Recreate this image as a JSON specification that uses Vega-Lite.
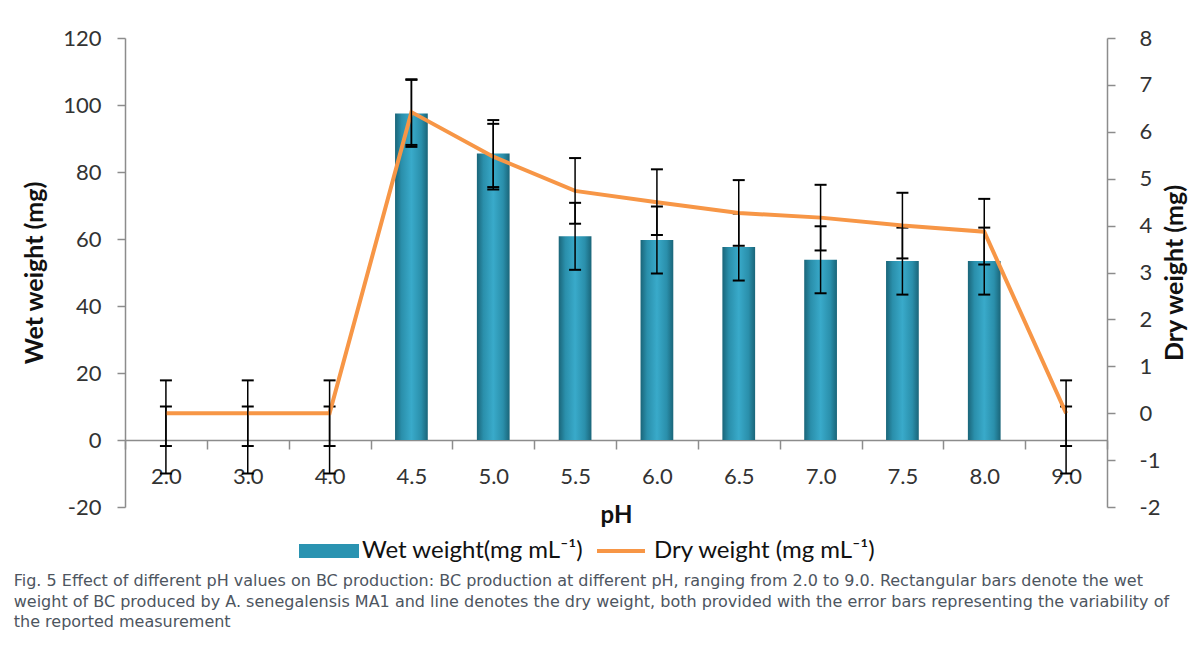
{
  "$schema": "https://vega.github.io/schema/vega-lite/v6.json",
  "width": 982,
  "height": 469,
  "padding": {"left": 13, "top": 27, "right": 2, "bottom": 5},
  "background": "white",
  "config": {
    "view": {"stroke": null},
    "font": "Lato",
    "axis": {"grid": false, "domainColor": "#8c8c8c", "tickColor": "#8c8c8c", "domainWidth": 1.5, "tickWidth": 1.5, "labelColor": "#333333", "titleColor": "#111111", "labelFont": "Lato", "titleFont": "Lato"}
  },
  "data": {"values": [
    {"pH": "2.0", "wet": 0, "wet_lo": -10, "wet_hi": 10, "dry": 0, "dry_lo": -0.7, "dry_hi": 0.7},
    {"pH": "3.0", "wet": 0, "wet_lo": -10, "wet_hi": 10, "dry": 0, "dry_lo": -0.7, "dry_hi": 0.7},
    {"pH": "4.0", "wet": 0, "wet_lo": -10, "wet_hi": 10, "dry": 0, "dry_lo": -0.7, "dry_hi": 0.7},
    {"pH": "4.5", "wet": 97.5, "wet_lo": 87.5, "wet_hi": 107.5, "dry": 6.42, "dry_lo": 5.72, "dry_hi": 7.12},
    {"pH": "5.0", "wet": 85.5, "wet_lo": 75.5, "wet_hi": 95.5, "dry": 5.47, "dry_lo": 4.77, "dry_hi": 6.17},
    {"pH": "5.5", "wet": 60.8, "wet_lo": 50.8, "wet_hi": 70.8, "dry": 4.74, "dry_lo": 4.04, "dry_hi": 5.44},
    {"pH": "6.0", "wet": 59.7, "wet_lo": 49.7, "wet_hi": 69.7, "dry": 4.5, "dry_lo": 3.8, "dry_hi": 5.2},
    {"pH": "6.5", "wet": 57.6, "wet_lo": 47.6, "wet_hi": 67.6, "dry": 4.27, "dry_lo": 3.57, "dry_hi": 4.97},
    {"pH": "7.0", "wet": 53.8, "wet_lo": 43.8, "wet_hi": 63.8, "dry": 4.17, "dry_lo": 3.47, "dry_hi": 4.87},
    {"pH": "7.5", "wet": 53.4, "wet_lo": 43.4, "wet_hi": 63.4, "dry": 4.0, "dry_lo": 3.3, "dry_hi": 4.7},
    {"pH": "8.0", "wet": 53.4, "wet_lo": 43.4, "wet_hi": 63.4, "dry": 3.87, "dry_lo": 3.17, "dry_hi": 4.57},
    {"pH": "9.0", "wet": 0, "wet_lo": -10, "wet_hi": 10, "dry": 0, "dry_lo": -0.7, "dry_hi": 0.7}
  ]},
  "title": {
    "text": [
      "Fig. 5 Effect of different pH values on BC production: BC production at different pH, ranging from 2.0 to 9.0. Rectangular bars denote the wet",
      "weight of BC produced by A. senegalensis MA1 and line denotes the dry weight, both provided with the error bars representing the variability of",
      "the reported measurement"
    ],
    "orient": "bottom",
    "anchor": "start",
    "frame": "bounds",
    "font": "DejaVu Sans",
    "fontSize": 16,
    "fontWeight": "normal",
    "color": "#4d5560",
    "lineHeight": 20.5,
    "offset": 10,
    "dx": -9
  },
  "encoding": {
    "x": {
      "field": "pH",
      "type": "ordinal",
      "sort": null,
      "scale": {"paddingInner": 0, "paddingOuter": 0},
      "axis": {"title": "pH", "labelAngle": 0, "tickBand": "extent", "offset": -67, "tickSize": 9, "labelPadding": 17, "labelFontSize": 22, "titleFontSize": 24, "titleFontWeight": "bold", "titlePadding": 16}
    }
  },
  "layer": [
    {
      "mark": {"type": "bar", "width": {"band": 0.4}},
      "encoding": {
        "y": {
          "field": "wet",
          "type": "quantitative",
          "scale": {"domain": [-20, 120], "nice": false, "zero": false},
          "axis": {"orient": "left", "title": "Wet weight (mg)", "values": [-20, 0, 20, 40, 60, 80, 100, 120], "labelExpr": "datum.value < 0 ? '-' + abs(datum.value) : datum.label", "tickSize": 8, "labelPadding": 16, "labelFontSize": 22, "titleFontSize": 25, "titleFontWeight": "bold", "titlePadding": 15}
        },
        "fill": {"value": {"gradient": "linear", "x1": 0, "y1": 0, "x2": 1, "y2": 0, "stops": [
          {"offset": 0, "color": "#1a6579"},
          {"offset": 0.2, "color": "#2a8fab"},
          {"offset": 0.5, "color": "#39aaca"},
          {"offset": 0.8, "color": "#2a8fab"},
          {"offset": 1, "color": "#1a6579"}
        ]}}
      }
    },
    {
      "mark": {"type": "rule", "color": "#000000", "strokeWidth": 1.5},
      "encoding": {
        "y": {"field": "wet_lo", "type": "quantitative", "scale": {"domain": [-20, 120], "nice": false, "zero": false}, "axis": null},
        "y2": {"field": "wet_hi"}
      }
    },
    {
      "mark": {"type": "tick", "color": "#000000", "size": 12, "thickness": 2, "opacity": 1},
      "encoding": {"y": {"field": "wet_lo", "type": "quantitative", "scale": {"domain": [-20, 120], "nice": false, "zero": false}, "axis": null}}
    },
    {
      "mark": {"type": "tick", "color": "#000000", "size": 12, "thickness": 2, "opacity": 1},
      "encoding": {"y": {"field": "wet_hi", "type": "quantitative", "scale": {"domain": [-20, 120], "nice": false, "zero": false}, "axis": null}}
    },
    {
      "mark": {"type": "line", "strokeWidth": 4},
      "encoding": {
        "y": {
          "field": "dry",
          "type": "quantitative",
          "scale": {"domain": [-2, 8], "nice": false, "zero": false},
          "axis": {"orient": "right", "title": "Dry weight (mg)", "values": [-2, -1, 0, 1, 2, 3, 4, 5, 6, 7, 8], "labelExpr": "datum.value < 0 ? '-' + abs(datum.value) : datum.label", "tickSize": 8, "labelPadding": 24, "labelFontSize": 22, "titleFontSize": 25, "titleFontWeight": "bold", "titlePadding": 28, "titleAngle": 270}
        },
        "color": {
          "datum": "Dry weight (mg mL⁻¹)",
          "scale": {
            "domain": ["Wet weight(mg mL⁻¹)", "Dry weight (mg mL⁻¹)"],
            "range": ["#2a93b1", "#f79646"]
          },
          "legend": {
            "orient": "none",
            "legendX": 192,
            "legendY": 501,
            "direction": "horizontal",
            "title": null,
            "symbolSize": 3600,
            "labelFontSize": 24,
            "labelFont": "Lato",
            "labelColor": "#111111",
            "labelLimit": 400,
            "labelOffset": 21,
            "columnPadding": 5,
            "encode": {
              "symbols": {
                "update": {
                  "shape": {"signal": "datum.index === 1 ? 'M-0.8,0H0.8' : 'M-1,-0.23H1V0.23H-1Z'"},
                  "fill": {"signal": "datum.index === 1 ? 'transparent' : '#2a93b1'"},
                  "stroke": {"signal": "datum.index === 1 ? '#f79646' : 'transparent'"},
                  "strokeWidth": {"signal": "datum.index === 1 ? 4 : 0"},
                  "opacity": {"value": 1}
                }
              }
            }
          }
        }
      }
    },
    {
      "mark": {"type": "rule", "color": "#000000", "strokeWidth": 1.5},
      "encoding": {
        "y": {"field": "dry_lo", "type": "quantitative", "scale": {"domain": [-2, 8], "nice": false, "zero": false}, "axis": null},
        "y2": {"field": "dry_hi"}
      }
    },
    {
      "mark": {"type": "tick", "color": "#000000", "size": 12, "thickness": 2, "opacity": 1},
      "encoding": {"y": {"field": "dry_lo", "type": "quantitative", "scale": {"domain": [-2, 8], "nice": false, "zero": false}, "axis": null}}
    },
    {
      "mark": {"type": "tick", "color": "#000000", "size": 12, "thickness": 2, "opacity": 1},
      "encoding": {"y": {"field": "dry_hi", "type": "quantitative", "scale": {"domain": [-2, 8], "nice": false, "zero": false}, "axis": null}}
    }
  ],
  "resolve": {"scale": {"y": "independent"}}
}
